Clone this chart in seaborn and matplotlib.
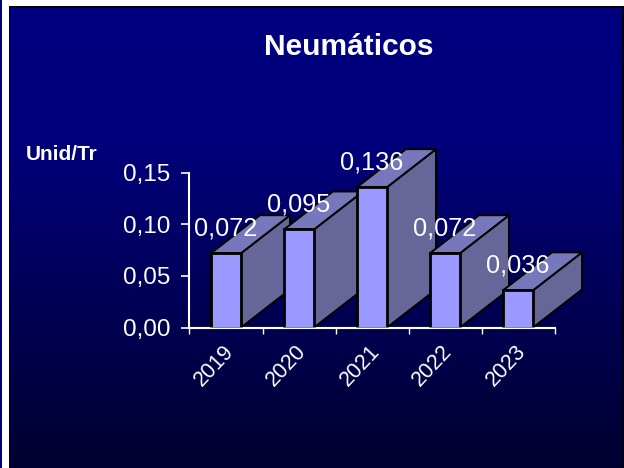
import numpy as np
import matplotlib
matplotlib.use("Agg")
import matplotlib.pyplot as plt
from matplotlib.patches import Polygon, Rectangle
from matplotlib.transforms import ScaledTranslation
import seaborn as sns

# valores
anios = ["2019", "2020", "2021", "2022", "2023"]
valores = [0.072, 0.095, 0.136, 0.072, 0.036]
etiquetas = ["0,072", "0,095", "0,136", "0,072", "0,036"]
ticks_y = [0.00, 0.05, 0.10, 0.15]
ticks_y_txt = ["0,00", "0,05", "0,10", "0,15"]

W, H = 624, 468

sns.set_theme(style="ticks")
plt.rcParams["font.family"] = ["Liberation Sans", "DejaVu Sans"]

fig = plt.figure(figsize=(W / 100, H / 100), dpi=100, facecolor="white")

# fondo degradado
fondo = fig.add_axes([0, 0, 1, 1], zorder=0)
fondo.axis("off")
filas = np.linspace(0, 1, 256)
azul = np.interp(filas, [0, 0.3, 1], [128, 122, 48]) / 255
grad = np.zeros((256, 1, 3))
grad[:, 0, 2] = azul
fondo.imshow(grad, extent=(9, 622, H, 7), aspect="auto", zorder=1)
fondo.set_xlim(0, W)
fondo.set_ylim(H, 0)
fondo.add_patch(Rectangle((0, 0), 1.5, H, color="#000080", lw=0, zorder=2))
fondo.add_patch(Rectangle((9, 6), W - 11, 1.5, color="black", lw=0, zorder=2))
fondo.add_patch(Rectangle((9, 6), 1.2, H, color="black", lw=0, zorder=2))
fondo.add_patch(Rectangle((622, 6), 2, H, color="#000018", lw=0, zorder=2))

# ejes en pixeles
x0, x1, y0, y1 = 189.5, 554.5, 327.5, 172.7
ax = fig.add_axes([x0 / W, 1 - y0 / H, (x1 - x0) / W, (y0 - y1) / H], zorder=1)
ax.patch.set_alpha(0)

sns.barplot(x=anios, y=valores, color="#9999FF", saturation=1, width=30 / 73,
            edgecolor="black", linewidth=2, ax=ax)
ax.set_xlim(-0.5, 4.5)
ax.set_ylim(0, 0.15)

# profundidad en unidades de datos
dx = 49 / 73
dy = 38 / (y0 - y1) * 0.15

for i, bar in enumerate(ax.patches):
    a = bar.get_x()
    b = a + bar.get_width()
    h = bar.get_height()
    bar.set_zorder(4 + i * 3)
    lado = Polygon([(b, 0), (b + dx, dy), (b + dx, h + dy), (b, h)], closed=True,
                   facecolor="#666699", edgecolor="black", lw=1.4, clip_on=False, zorder=3 + i * 3)
    tapa = Polygon([(a, h), (a + dx, h + dy), (b + dx, h + dy), (b, h)], closed=True,
                   facecolor="#7777BB", edgecolor="black", lw=1.4, clip_on=False, zorder=3 + i * 3)
    ax.add_patch(lado)
    ax.add_patch(tapa)
    ax.annotate(etiquetas[i], (i, h), xytext=(0, 25), textcoords="offset pixels",
                ha="center", va="center", color="white", fontsize=18.2, zorder=60)

for s in ["top", "right"]:
    ax.spines[s].set_visible(False)
for s in ["left", "bottom"]:
    ax.spines[s].set_color("white")
    ax.spines[s].set_linewidth(1.5)

ax.axhline(0, color="white", alpha=0.5, lw=1.5, zorder=40, clip_on=False)

ax.set_yticks(ticks_y)
ax.set_yticklabels(ticks_y_txt)
ax.tick_params(axis="y", colors="white", length=5.5, width=1.2, labelsize=17.5, pad=8.5)

# marcas entre categorias, etiquetas en el centro
ax.set_xticks(np.arange(-0.5, 5), labels=[""] * 6)
ax.tick_params(axis="x", which="major", colors="white", length=4, width=1)
ax.set_xticks(range(len(anios)), labels=anios, minor=True)
ax.tick_params(axis="x", which="minor", length=0, colors="white", labelsize=15.5, pad=15)
corrimiento = ScaledTranslation(3 / 72, 0, fig.dpi_scale_trans)
for t in ax.get_xticklabels(minor=True):
    t.set_rotation(47)
    t.set_rotation_mode("anchor")
    t.set_ha("right")
    t.set_va("center")
    t.set_transform(t.get_transform() + corrimiento)

ax.set_xlabel("")
ax.set_ylabel("")

fig.text(349 / W, 1 - 47 / H, "Neumáticos", color="white", fontsize=21.5, fontweight="bold",
         ha="center", va="center", zorder=5)
fig.text(62 / W, 1 - 154 / H, "Unid/Tr", color="white", fontsize=15, fontweight="bold",
         ha="center", va="center", zorder=5)

fig.savefig("out.png", dpi=100, facecolor="white")
